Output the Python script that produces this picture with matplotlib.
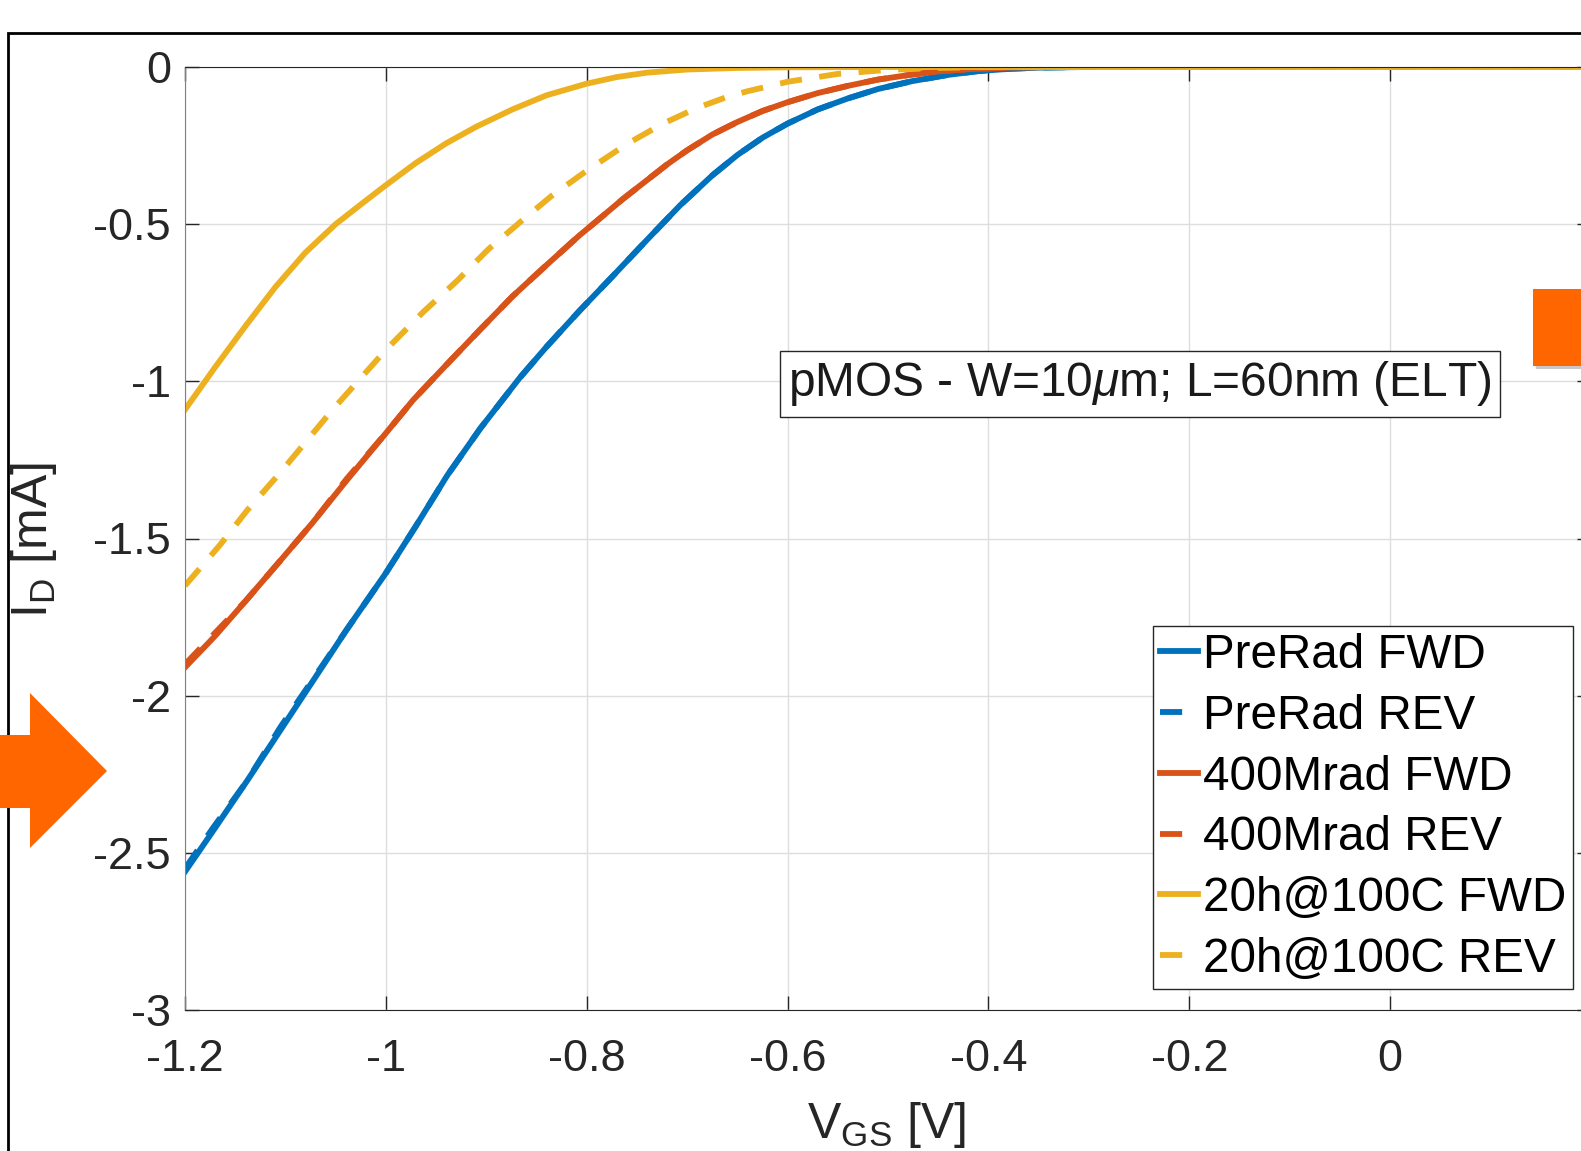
import matplotlib
matplotlib.use("Agg")
import matplotlib.pyplot as plt
from matplotlib.patches import Polygon, Rectangle

plt.rcParams['font.family'] = ['Liberation Sans', 'DejaVu Sans']
plt.rcParams['mathtext.fontset'] = 'custom'
plt.rcParams['mathtext.rm'] = 'Liberation Sans'
plt.rcParams['mathtext.it'] = 'Liberation Sans:italic'

# ---- data (VGS in V, ID in mA) ----
prerad_fwd_x = [-1.2, -1.172, -1.138, -1.105, -1.073, -1.039, -1.0, -0.97, -0.939, -0.906,
                -0.867, -0.84, -0.807, -0.774, -0.74, -0.707, -0.675, -0.65, -0.625, -0.6,
                -0.57, -0.54, -0.51, -0.476, -0.44, -0.41, -0.38, -0.35, -0.3, 0.2]
prerad_fwd_y = [-2.56, -2.43, -2.27, -2.11, -1.955, -1.79, -1.61, -1.46, -1.30, -1.15,
                -0.99, -0.89, -0.775, -0.665, -0.55, -0.44, -0.345, -0.28, -0.225, -0.18,
                -0.135, -0.10, -0.07, -0.045, -0.025, -0.013, -0.006, -0.002, 0.0, 0.0]
prerad_rev_x = prerad_fwd_x
prerad_rev_y = [-2.55, -2.42, -2.27, -2.10, -1.95, -1.79, -1.61, -1.46, -1.30, -1.15,
                -0.99, -0.89, -0.775, -0.665, -0.55, -0.44, -0.345, -0.28, -0.225, -0.18,
                -0.135, -0.10, -0.07, -0.045, -0.025, -0.013, -0.006, -0.002, 0.0, 0.0]

mrad_fwd_x = [-1.2, -1.17, -1.14, -1.105, -1.073, -1.039, -1.0, -0.973, -0.939, -0.906,
              -0.874, -0.84, -0.807, -0.79, -0.764, -0.74, -0.72, -0.7, -0.675, -0.65,
              -0.625, -0.6, -0.57, -0.54, -0.51, -0.476, -0.45, -0.42, -0.38, -0.34, 0.2]
mrad_fwd_y = [-1.91, -1.81, -1.70, -1.57, -1.45, -1.315, -1.165, -1.06, -0.945, -0.835,
              -0.73, -0.63, -0.535, -0.49, -0.42, -0.36, -0.31, -0.265, -0.215, -0.175,
              -0.14, -0.112, -0.083, -0.06, -0.04, -0.024, -0.014, -0.007, -0.002, 0.0, 0.0]
mrad_rev_x = mrad_fwd_x
mrad_rev_y = [-1.90, -1.80, -1.70, -1.57, -1.45, -1.31, -1.165, -1.06, -0.945, -0.835,
              -0.73, -0.63, -0.535, -0.49, -0.42, -0.36, -0.31, -0.265, -0.215, -0.175,
              -0.14, -0.112, -0.083, -0.06, -0.04, -0.024, -0.014, -0.007, -0.002, 0.0, 0.0]

anneal_fwd_x = [-1.2, -1.17, -1.14, -1.11, -1.08, -1.05, -1.02, -1.0, -0.97, -0.94,
                -0.91, -0.874, -0.84, -0.8, -0.77, -0.74, -0.7, -0.65, -0.6, -0.5, 0.2]
anneal_fwd_y = [-1.09, -0.955, -0.825, -0.70, -0.59, -0.50, -0.425, -0.376, -0.305, -0.243,
                -0.19, -0.135, -0.09, -0.053, -0.032, -0.018, -0.008, -0.003, -0.001, 0.0, 0.0]
anneal_rev_x = [-1.2, -1.165, -1.138, -1.105, -1.053, -1.0, -0.963, -0.929, -0.898, -0.865,
                -0.835, -0.8, -0.76, -0.724, -0.69, -0.66, -0.641, -0.6, -0.55, -0.5,
                -0.45, -0.4, 0.2]
anneal_rev_y = [-1.65, -1.52, -1.41, -1.29, -1.09, -0.90, -0.78, -0.68, -0.58, -0.49,
                -0.41, -0.33, -0.245, -0.18, -0.13, -0.095, -0.078, -0.047, -0.022, -0.009,
                -0.003, 0.0, 0.0]

labels = ['PreRad FWD', 'PreRad REV', '400Mrad FWD', '400Mrad REV',
          '20h@100C FWD', '20h@100C REV']
colors = ['#0072BD', '#0072BD', '#D95319', '#D95319', '#EDB120', '#EDB120']

xticks = [-1.2, -1.0, -0.8, -0.6, -0.4, -0.2, 0.0, 0.2]
xticklabels = ['-1.2', '-1', '-0.8', '-0.6', '-0.4', '-0.2', '0', '']
yticks = [0, -0.5, -1, -1.5, -2, -2.5, -3]
yticklabels = ['0', '-0.5', '-1', '-1.5', '-2', '-2.5', '-3']

W, H = 1581, 1151
fig = plt.figure(figsize=(W / 100, H / 100), dpi=100)

def fx(px):
    return px / W

def fy(py):
    return 1 - py / H

ax = fig.add_axes([fx(185), fy(1010), (1591 - 185) / W, (1010 - 67) / H])

series = [(prerad_fwd_x, prerad_fwd_y), (prerad_rev_x, prerad_rev_y),
          (mrad_fwd_x, mrad_fwd_y), (mrad_rev_x, mrad_rev_y),
          (anneal_fwd_x, anneal_fwd_y), (anneal_rev_x, anneal_rev_y)]
for i, (xs, ys) in enumerate(series):
    if i % 2 == 0:
        ax.plot(xs, ys, color=colors[i], lw=4.2, label=labels[i],
                solid_joinstyle='round')
    else:
        ax.plot(xs, ys, color=colors[i], lw=4.2, ls=(0, (3.8, 3)), label=labels[i])

ax.set_xlim(-1.2, 0.2)
ax.set_ylim(-3, 0)
ax.set_xticks(xticks)
ax.set_xticklabels(xticklabels)
ax.set_yticks(yticks)
ax.set_yticklabels(yticklabels)
ax.tick_params(direction='in', length=10, width=1, top=True, right=True,
               labelsize=32.5, colors='#262626')
ax.tick_params(axis='x', pad=21)
ax.tick_params(axis='y', pad=10)
ax.grid(True, color='#dedede', lw=1)
ax.set_axisbelow(True)
for side in ['top', 'bottom', 'right']:
    ax.spines[side].set_color('#262626')
ax.spines['left'].set_color('#808080')

leg = ax.legend(loc='upper left', bbox_to_anchor=(fx(1153), fy(626)),
                bbox_transform=fig.transFigure, fontsize=34.3, frameon=True,
                fancybox=False, edgecolor='#262626', framealpha=1,
                handlelength=0.8, handletextpad=0.1, labelspacing=0.33,
                borderpad=0.15, borderaxespad=0)
leg.get_frame().set_linewidth(1)

fig.text(fx(1140), fy(384), r'pMOS - W=10$\mu$m; L=60nm (ELT)', fontsize=34.5,
         ha='center', va='center', color='#1a1a1a',
         bbox=dict(boxstyle='square,pad=0.18', fc='white', ec='#262626', lw=1))

# axis labels
fig.text(fx(887), fy(1138), r'V$_{\mathrm{GS}}$ [V]', fontsize=36, ha='center',
         va='baseline', color='#262626')
fig.text(fx(34), fy(540), r'I$_{\mathrm{D}}$ [mA]', fontsize=36, rotation=90,
         ha='center', va='center', color='#262626')

# slide decorations: frame, arrow, box
fig.patches.append(Rectangle((fx(8), fy(1200)), fx(1700), fy(33) - fy(1200),
                             transform=fig.transFigure, fill=False, ec='black', lw=2))
arrow = [(0, 735), (30, 735), (30, 693), (107, 771), (30, 848), (30, 808), (0, 808)]
fig.patches.append(Polygon([(fx(a), fy(b)) for a, b in arrow], closed=True,
                           transform=fig.transFigure, fc='#FF6600', ec='none'))
fig.patches.append(Rectangle((fx(1536), fy(369)), fx(60), fy(292) - fy(369),
                             transform=fig.transFigure, fc='#c8c8c8', ec='none'))
fig.patches.append(Rectangle((fx(1533), fy(366)), fx(60), fy(289) - fy(366),
                             transform=fig.transFigure, fc='#FF6600', ec='none'))

fig.savefig('out.png', dpi=100)
